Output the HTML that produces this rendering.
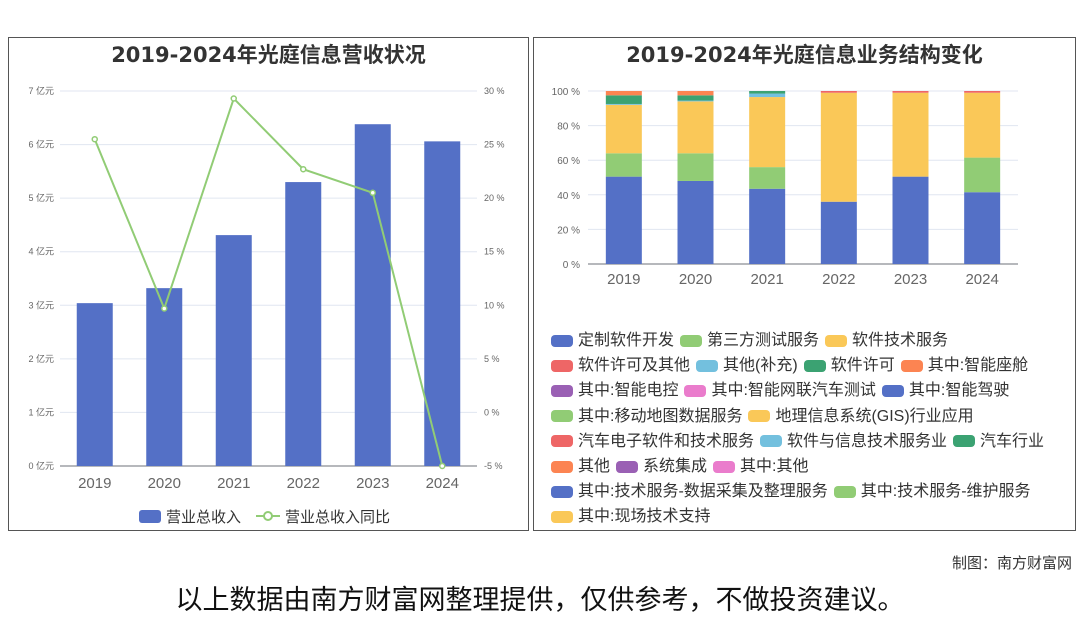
<!DOCTYPE html>
<html><head><meta charset="utf-8"><style>
body{margin:0;width:1080px;height:614px;background:#fff;font-family:"Liberation Sans","Noto Sans CJK SC",sans-serif;position:relative;overflow:hidden}
.panel{position:absolute;border:1px solid #555;box-sizing:border-box}
.title{position:absolute;width:100%;text-align:center;top:1px;font-size:21px;font-weight:bold;color:#333;font-family:"DejaVu Sans","Noto Sans CJK SC",sans-serif}
.lg{position:absolute;left:551px;top:328px;width:520px;display:flex;flex-wrap:wrap;font-size:16px;color:#333;line-height:25.2px}
.li{display:flex;align-items:center;margin-right:6px}
.sw{width:22px;height:12px;border-radius:4px;margin-right:5px}
</style></head><body>
<div class="panel" style="left:8px;top:37px;width:521px;height:494px">
<div class="title">2019-2024年光庭信息营收状况</div></div>
<div class="panel" style="left:533px;top:37px;width:543px;height:494px">
<div class="title">2019-2024年光庭信息业务结构变化</div></div>
<svg id="c1" width="1080" height="614" style="position:absolute;left:0;top:0"></svg>
<div class="lg" id="lg"></div>
<div style="position:absolute;right:8px;top:552px;font-size:15px;color:#333">制图：南方财富网</div>
<div style="position:absolute;left:0;width:1080px;text-align:center;top:578px;font-size:27px;color:#111">以上数据由南方财富网整理提供，仅供参考，不做投资建议。</div>
<script>
const years=["2019","2020","2021","2022","2023","2024"];
const revenue=[3.04,3.32,4.31,5.30,6.38,6.06];
const growth=[25.5,9.7,29.3,22.7,20.5,-5];
const leftTicks=[0,1,2,3,4,5,6,7];
const rightTicks=[-5,0,5,10,15,20,25,30];
const pctTicks=[0,20,40,60,80,100];
const sBlue=[50.5,48,43.5,36,50.5,41.5];
const sGreen=[13.5,16,12.5,0,0,20];
const sYellow=[28,30,40.5,63,48.5,37.5];
const sTeal=[0.5,0.5,2,0,0,0];
const sDkGreen=[5,3,1.5,0,0,0];
const sOrange=[2.5,2.5,0,0,0,0];
const sRed=[0,0,0,1,1,1];
const legendNames=["定制软件开发","第三方测试服务","软件技术服务","软件许可及其他","其他(补充)","软件许可","其中:智能座舱","其中:智能电控","其中:智能网联汽车测试","其中:智能驾驶","其中:移动地图数据服务","地理信息系统(GIS)行业应用","汽车电子软件和技术服务","软件与信息技术服务业","汽车行业","其他","系统集成","其中:其他","其中:技术服务-数据采集及整理服务","其中:技术服务-维护服务","其中:现场技术支持"];
const legendColors=["#5470c6","#91cc75","#fac858","#ee6666","#73c0de","#3ba272","#fc8452","#9a60b4","#ea7ccc","#5470c6","#91cc75","#fac858","#ee6666","#73c0de","#3ba272","#fc8452","#9a60b4","#ea7ccc","#5470c6","#91cc75","#fac858"];
const svg=document.getElementById('c1');const NS='http://www.w3.org/2000/svg';
function mk(t,a,txt){const e=document.createElementNS(NS,t);for(const k in a)e.setAttribute(k,a[k]);if(txt!==undefined)e.textContent=txt;svg.appendChild(e);return e;}
const L={x0:60,x1:477,y0:466,y1:91};
const ly=v=>L.y0-(v/7)*(L.y0-L.y1);
const ry=v=>L.y0-((v+5)/35)*(L.y0-L.y1);
const bw=(L.x1-L.x0)/years.length;
const lx=i=>L.x0+bw*(i+0.5);
leftTicks.forEach(t=>{const g=mk('line',{x1:L.x0,x2:L.x1,y1:ly(t),y2:ly(t),stroke:'#e0e6f1'});
const tx=mk('text',{x:54,y:ly(t)+3,'font-size':9,fill:'#666','text-anchor':'end'},t+' 亿元');});
rightTicks.forEach(t=>{const tx=mk('text',{x:484,y:ry(t)+3,'font-size':9,fill:'#666'},t+' %');});
mk('line',{x1:L.x0,x2:L.x1,y1:L.y0,y2:L.y0,stroke:'#6e7079'});
years.forEach((y,i)=>{const tx=mk('text',{x:lx(i),y:488,'font-size':15,fill:'#666','text-anchor':'middle'},y);
const r=mk('rect',{x:lx(i)-18,y:ly(revenue[i]),width:36,height:L.y0-ly(revenue[i]),fill:'#5470c6'});});
const pl=mk('polyline',{points:growth.map((g,i)=>lx(i)+','+ry(g)).join(' '),fill:'none',stroke:'#91cc75','stroke-width':2});

growth.forEach((g,i)=>{const c=mk('circle',{cx:lx(i),cy:ry(g),r:2.5,fill:'#fff',stroke:'#91cc75','stroke-width':1.5});});
let lr=mk('rect',{x:139,y:510,width:22,height:13,rx:3,fill:'#5470c6'});
mk('text',{x:166,y:522,'font-size':15,fill:'#333'},'营业总收入');
mk('line',{x1:256,x2:280,y1:516,y2:516,stroke:'#91cc75','stroke-width':2});
mk('circle',{cx:268,cy:516,r:4,fill:'#fff',stroke:'#91cc75','stroke-width':2});
mk('text',{x:285,y:522,'font-size':15,fill:'#333'},'营业总收入同比');
const R={x0:588,x1:1018,y0:264,y1:91};
const py=v=>R.y0-(v/100)*(R.y0-R.y1);
const rbw=(R.x1-R.x0)/years.length;const rx=i=>R.x0+rbw*(i+0.5);
pctTicks.forEach(t=>{mk('line',{x1:R.x0,x2:R.x1,y1:py(t),y2:py(t),stroke:'#e0e6f1'});
const tx=mk('text',{x:580,y:py(t)+4,'font-size':10,fill:'#666','text-anchor':'end'},t+' %');});
mk('line',{x1:R.x0,x2:R.x1,y1:R.y0,y2:R.y0,stroke:'#6e7079'});
const stacks=[[sBlue,'#5470c6'],[sGreen,'#91cc75'],[sYellow,'#fac858'],[sTeal,'#73c0de'],[sDkGreen,'#3ba272'],[sOrange,'#fc8452'],[sRed,'#ee6666']];
years.forEach((y,i)=>{let acc=0;stacks.forEach(([arr,col])=>{const v=arr[i];if(v>0){const r=mk('rect',{x:rx(i)-18,y:py(acc+v),width:36,height:py(acc)-py(acc+v),fill:col});}acc+=v;});
const tx=mk('text',{x:rx(i),y:284,'font-size':15,fill:'#666','text-anchor':'middle'},y);});
const lg=document.getElementById('lg');
legendNames.forEach((n,i)=>{const d=document.createElement('div');d.className='li';


d.innerHTML='<span class="sw" style="background:'+legendColors[i]+'"></span>'+n;lg.appendChild(d);});
</script>
</body></html>
